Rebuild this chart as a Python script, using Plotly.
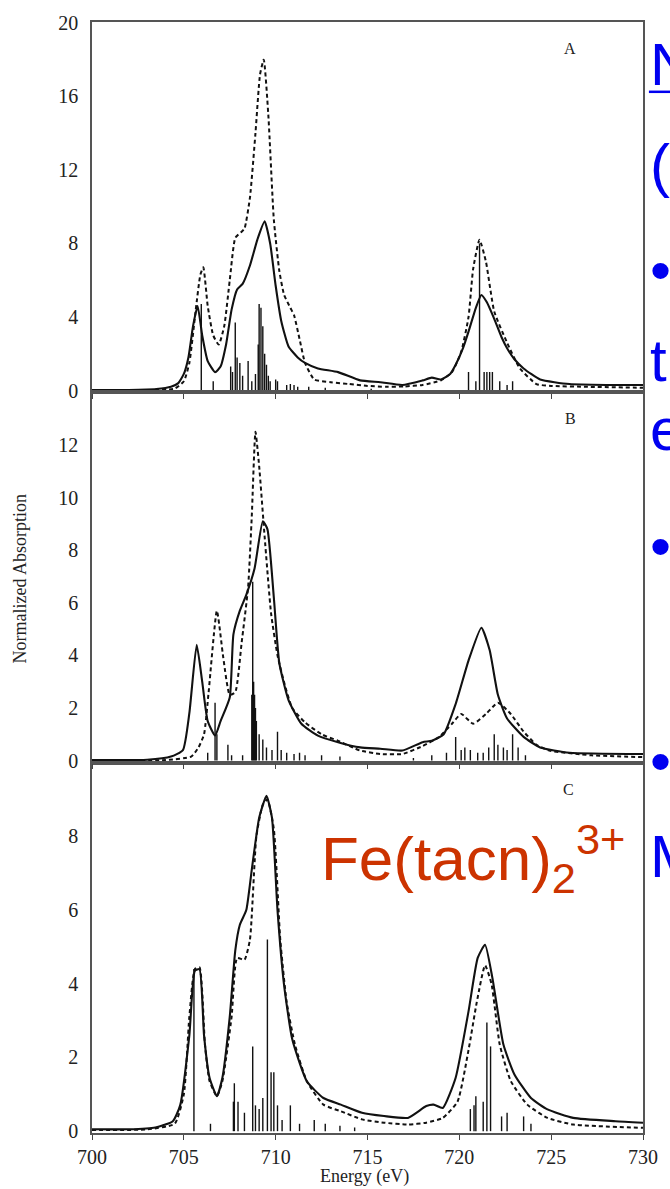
import plotly.graph_objects as go

# ---------------- data ----------------
# Panel A
a_solid_x = [700, 702, 703.5, 704.3, 704.7, 705.0, 705.25, 705.5, 705.75, 706.0, 706.3, 706.7, 707.0, 707.3, 707.6, 707.9, 708.2, 708.6, 709.0, 709.4, 709.7, 710.0, 710.3, 710.7, 711.2, 711.6, 712.3, 713.4, 714.6, 715.7, 716.9, 718.0, 718.5, 719.0, 719.5, 719.8, 720.2, 720.5, 720.9, 721.2, 721.5, 721.9, 722.3, 722.6, 723.0, 723.5, 724.4, 726, 728, 730]
a_solid_y = [0.02, 0.03, 0.08, 0.2, 0.4, 0.9, 1.8, 3.5, 4.6, 3.0, 1.6, 1.0, 1.3, 2.5, 4.4, 5.5, 5.8, 6.8, 8.2, 9.2, 8.0, 5.7, 3.8, 2.4, 1.8, 1.5, 1.2, 1.0, 0.55, 0.45, 0.3, 0.55, 0.7, 0.6, 0.9, 1.4, 2.3, 3.2, 4.5, 5.2, 4.8, 3.9, 2.9, 2.3, 1.7, 1.2, 0.6, 0.35, 0.3, 0.3]
a_dash_x = [700, 703, 704.5, 705.0, 705.3, 705.65, 705.9, 706.06, 706.3, 706.6, 706.9, 707.2, 707.5, 707.8, 708.1, 708.3, 708.6, 708.9, 709.15, 709.35, 709.6, 709.9, 710.2, 710.46, 710.8, 711.0, 711.3, 711.6, 712.1, 713, 714, 715, 716, 717, 718, 719, 719.6, 720.1, 720.5, 720.75, 721.1, 721.45, 721.9, 722.6, 723.3, 724.2, 725, 727, 730]
a_dash_y = [0.0, 0.02, 0.1, 0.5, 1.5, 4.4, 6.3, 6.7, 4.6, 3.0, 2.5, 3.5, 6.0, 8.3, 8.6, 8.8, 10.5, 14, 17.2, 18.0, 15, 9.3, 6.5, 5.2, 4.5, 4.1, 2.8, 1.5, 0.6, 0.45, 0.35, 0.25, 0.2, 0.22, 0.3, 0.55, 1.0, 2.1, 4.0, 6.6, 8.2, 7.0, 4.3, 2.6, 1.2, 0.35, 0.25, 0.2, 0.15]
a_stick_x = [705.95, 706.6, 707.55, 707.65, 707.8, 707.9, 708.05, 708.2, 708.5, 708.7, 708.9, 709.05, 709.1, 709.2, 709.3, 709.4, 709.5, 709.6, 709.7, 710.0, 710.1, 710.6, 710.8, 711.0, 711.2, 711.8, 712.7, 715.2, 720.5, 720.9, 721.1, 721.35, 721.5, 721.65, 721.8, 722.2, 722.6, 722.9]
a_stick_h = [4.7, 0.5, 1.3, 1.0, 3.7, 1.8, 1.5, 0.8, 1.6, 0.5, 0.9, 2.5, 4.7, 4.5, 3.5, 2.0, 1.4, 0.8, 0.5, 0.6, 0.5, 0.3, 0.35, 0.3, 0.2, 0.2, 0.15, 0.1, 1.0, 0.5, 8.0, 1.0, 1.0, 1.0, 1.0, 0.5, 0.3, 0.5]

# Panel B
b_solid_x = [700, 703, 704.3, 704.95, 705.3, 705.7, 706.0, 706.3, 706.7, 707.0, 707.5, 707.7, 708.05, 708.4, 708.85, 709.3, 709.55, 709.9, 710.2, 710.7, 711.4, 712.3, 713.4, 714.6, 715.7, 716.9, 718.0, 718.5, 719.15, 719.8, 720.5, 721.2, 721.65, 722.1, 722.6, 723.5, 724.4, 726, 730]
b_solid_y = [0.02, 0.03, 0.15, 0.4, 1.8, 4.4, 3.0, 1.5, 0.95, 1.5, 2.4, 4.8, 5.7, 6.3, 7.3, 9.1, 8.8, 6.2, 3.7, 2.3, 1.4, 0.95, 0.7, 0.5, 0.45, 0.38, 0.7, 0.75, 1.0, 2.15, 3.8, 5.05, 4.2, 2.5, 1.6, 0.9, 0.5, 0.3, 0.25]
b_dash_x = [700, 704, 705.4, 705.8, 706.1, 706.35, 706.8, 707.15, 707.5, 707.8, 708.15, 708.5, 708.7, 708.9, 709.1, 709.4, 709.75, 710.1, 710.45, 710.9, 711.6, 712.5, 713.4, 714.6, 715.7, 716.9, 718, 718.9, 719.6, 720.1, 720.75, 721.45, 722.1, 722.8, 723.5, 724.2, 724.9, 727.2, 730]
b_dash_y = [0.0, 0.02, 0.15, 0.5, 1.0, 2.6, 5.7, 3.9, 2.5, 2.6, 4.5, 6.6, 9.3, 12.5, 11.2, 8.5, 5.6, 4.0, 3.0, 2.0, 1.45, 1.0, 0.75, 0.38, 0.25, 0.25, 0.55, 0.9, 1.4, 1.77, 1.4, 1.77, 2.2, 1.77, 1.1, 0.6, 0.38, 0.2, 0.13]
b_stick_x = [706.3, 706.7, 706.8, 707.4, 707.6, 708.2, 708.7, 708.75, 708.8, 708.85, 708.9, 708.95, 709.1, 709.3, 709.5, 709.8, 710.1, 710.3, 710.6, 711.0, 711.3, 711.6, 712.5, 713.5, 717.5, 718.5, 719.3, 719.8, 720.1, 720.3, 720.6, 721.0, 721.3, 721.6, 721.9, 722.1, 722.4, 722.6, 722.9, 723.2, 723.6]
b_stick_h = [0.3, 2.2, 1.0, 0.6, 0.2, 0.2, 2.5, 6.8, 3.0, 2.5, 2.0, 1.5, 1.0, 0.8, 0.5, 0.4, 1.1, 0.4, 0.3, 0.25, 0.3, 0.2, 0.2, 0.15, 0.1, 0.2, 0.3, 0.9, 0.4, 0.5, 0.4, 0.3, 0.3, 0.5, 1.0, 0.6, 0.5, 0.4, 1.0, 0.5, 0.2]

# Panel C
c_solid_x = [700, 702, 703.45, 704.4, 704.8, 705.3, 705.6, 705.85, 706.1, 706.4, 706.8, 707.1, 707.5, 707.8, 708.05, 708.4, 708.7, 709.1, 709.5, 709.8, 710.1, 710.45, 710.9, 711.7, 712.6, 713.55, 714.7, 715.9, 717.2, 718.2, 718.6, 719.1, 719.8, 720.5, 721.0, 721.4, 721.8, 722.4, 723.0, 723.9, 724.8, 726.2, 728.5, 730]
c_solid_y = [0.05, 0.05, 0.1, 0.27, 0.7, 2.6, 4.35, 4.4, 2.6, 1.45, 0.95, 1.45, 3.1, 4.9, 5.6, 6.0, 7.1, 8.5, 9.1, 8.5, 6.0, 4.0, 2.5, 1.35, 0.9, 0.72, 0.5, 0.41, 0.36, 0.68, 0.72, 0.63, 1.45, 3.25, 4.7, 5.06, 4.16, 2.35, 1.54, 0.9, 0.59, 0.36, 0.27, 0.23]
c_dash_x = [700, 703, 704.5, 705.0, 705.3, 705.6, 705.85, 706.15, 706.4, 706.8, 707.1, 707.6, 707.9, 708.3, 708.6, 708.95, 709.3, 709.55, 709.9, 710.25, 710.6, 711.05, 711.7, 712.6, 713.55, 714.7, 715.9, 717.2, 718.2, 719.1, 719.9, 720.5, 720.95, 721.4, 721.75, 722.2, 722.8, 723.7, 724.8, 726.2, 730]
c_dash_y = [0.03, 0.05, 0.2, 1.0, 3.1, 4.4, 4.45, 2.35, 1.36, 0.95, 1.36, 3.1, 4.7, 4.65, 5.2, 8.0, 8.86, 9.0, 8.2, 5.2, 3.5, 2.35, 1.35, 0.72, 0.54, 0.32, 0.23, 0.18, 0.23, 0.36, 0.8, 2.2, 3.5, 4.5, 4.0, 2.35, 1.36, 0.72, 0.36, 0.18, 0.09]
c_stick_x = [705.55, 706.45, 707.7, 707.75, 707.95, 708.3, 708.75, 708.9, 709.1, 709.3, 709.55, 709.75, 709.9, 710.1, 710.35, 710.8, 711.3, 712.1, 712.7, 713.5, 714.3, 720.6, 720.8, 720.9, 721.3, 721.5, 721.7, 722.3, 722.6, 723.5, 723.9]
c_stick_h = [4.4, 0.2, 0.8, 1.3, 0.8, 0.5, 2.3, 0.7, 0.6, 0.9, 5.2, 1.6, 1.6, 0.7, 0.3, 0.7, 0.2, 0.3, 0.2, 0.15, 0.1, 0.6, 0.7, 0.95, 0.8, 2.95, 2.3, 0.4, 0.5, 0.4, 0.2]

panel_labels = ["A", "B", "C"]
y_ticks = [[0, 4, 8, 12, 16, 20], [0, 2, 4, 6, 8, 10, 12], [0, 2, 4, 6, 8]]
y_ranges = [[-0.1, 20.05], [-0.08, 14.0], [-0.05, 10.0]]
x_ticks = [700, 705, 710, 715, 720, 725, 730]
compound = "Fe(tacn)<sub>2</sub><sup>3+</sup>"
side_text = ["N", "(", "•", "t", "e", "•", "•", "M"]

# ---------------- figure ----------------
W, H = 670, 1189
L, R, T, B = 92, 651, 19, 1133


def px(x):
    return (x - L) / (R - L)


def py(y):
    return (B - y) / (B - T)


fig = go.Figure()
panels = [
    (a_solid_x, a_solid_y, a_dash_x, a_dash_y, a_stick_x, a_stick_h),
    (b_solid_x, b_solid_y, b_dash_x, b_dash_y, b_stick_x, b_stick_h),
    (c_solid_x, c_solid_y, c_dash_x, c_dash_y, c_stick_x, c_stick_h),
]
domains = [[2 / 3, 1.0], [1 / 3, 2 / 3], [0.0, 1 / 3]]
ink = "#111111"
for i, (sx, sy, dx, dy, kx, kh) in enumerate(panels):
    xa = "x" if i == 0 else f"x{i+1}"
    ya = "y" if i == 0 else f"y{i+1}"
    stx, sty = [], []
    for xv, hv in zip(kx, kh):
        stx += [xv, xv, None]
        sty += [0, hv, None]
    fig.add_trace(go.Scatter(x=stx, y=sty, mode="lines", line=dict(color=ink, width=1.4),
                             xaxis=xa, yaxis=ya, showlegend=False, hoverinfo="skip"))
    fig.add_trace(go.Scatter(x=dx, y=dy, mode="lines", line=dict(color=ink, width=2, dash="4px,3px", shape="spline", smoothing=0.5),
                             xaxis=xa, yaxis=ya, showlegend=False))
    fig.add_trace(go.Scatter(x=sx, y=sy, mode="lines", line=dict(color=ink, width=2.1, shape="spline", smoothing=0.5),
                             xaxis=xa, yaxis=ya, showlegend=False))
    xkey = "xaxis" if i == 0 else f"xaxis{i+1}"
    ykey = "yaxis" if i == 0 else f"yaxis{i+1}"
    fig.layout[xkey] = dict(
        range=[700, 730], domain=[0, 1], anchor=ya, tickvals=x_ticks,
        showticklabels=(i == 2), ticks="outside", ticklen=5, tickcolor="#444", tickwidth=1,
        ticklabelstandoff=0,
        showline=True, linecolor="#555", linewidth=1.5, mirror=True, showgrid=False, zeroline=False,
        tickfont=dict(family="Liberation Serif", size=20, color="#222"),
        **({} if i == 0 else {"matches": "x"})
    )
    fig.layout[ykey] = dict(
        range=y_ranges[i], domain=domains[i], anchor=xa, tickvals=y_ticks[i],
        ticks="", showline=True, linecolor="#555", linewidth=1.5, mirror=True,
        showgrid=False, zeroline=False, ticklabelstandoff=8,
        tickfont=dict(family="Liberation Serif", size=20, color="#222"),
    )

annotations = []
label_pos = [(577, 46), (577, 417), (575, 789)]
for lab, (lx, ly) in zip(panel_labels, label_pos):
    annotations.append(dict(x=px(lx), y=py(ly), xref="paper", yref="paper", text=lab, showarrow=False,
                            xanchor="center", yanchor="middle",
                            font=dict(family="Liberation Serif", size=16, color="#222")))
annotations.append(dict(x=px(368), y=py(1177), xref="paper", yref="paper", text="Energy (eV)", showarrow=False,
                        xanchor="center", yanchor="middle",
                        font=dict(family="Liberation Serif", size=18, color="#222")))
annotations.append(dict(x=px(19), y=py(578), xref="paper", yref="paper", text="Normalized Absorption", showarrow=False,
                        xanchor="center", yanchor="middle",
                        textangle=-90, font=dict(family="Liberation Serif", size=18, color="#222")))
annotations.append(dict(x=px(322), y=py(858), xref="paper", yref="paper", text=compound, showarrow=False,
                        xanchor="left", yanchor="middle",
                        font=dict(family="Liberation Sans", size=62, color="#CC3300")))
side_y = [62, 163, 268, 358, 428, 545, 760, 856]
for t, yy in zip(side_text, side_y):
    annotations.append(dict(x=px(656), y=py(yy), xref="paper", yref="paper", text=t, showarrow=False,
                            xanchor="left", yanchor="middle",
                            font=dict(family="Liberation Sans", size=60, color="#0000F0")))

fig.update_layout(
    width=W, height=H, margin=dict(l=L, r=W - R, t=T, b=H - B),
    paper_bgcolor="white", plot_bgcolor="white", annotations=annotations,
    shapes=[dict(type="line", xref="paper", yref="paper", x0=px(657), x1=px(680), y0=py(89), y1=py(89),
                 line=dict(color="#0000F0", width=2.5))],
)
fig.write_html("out.html")
